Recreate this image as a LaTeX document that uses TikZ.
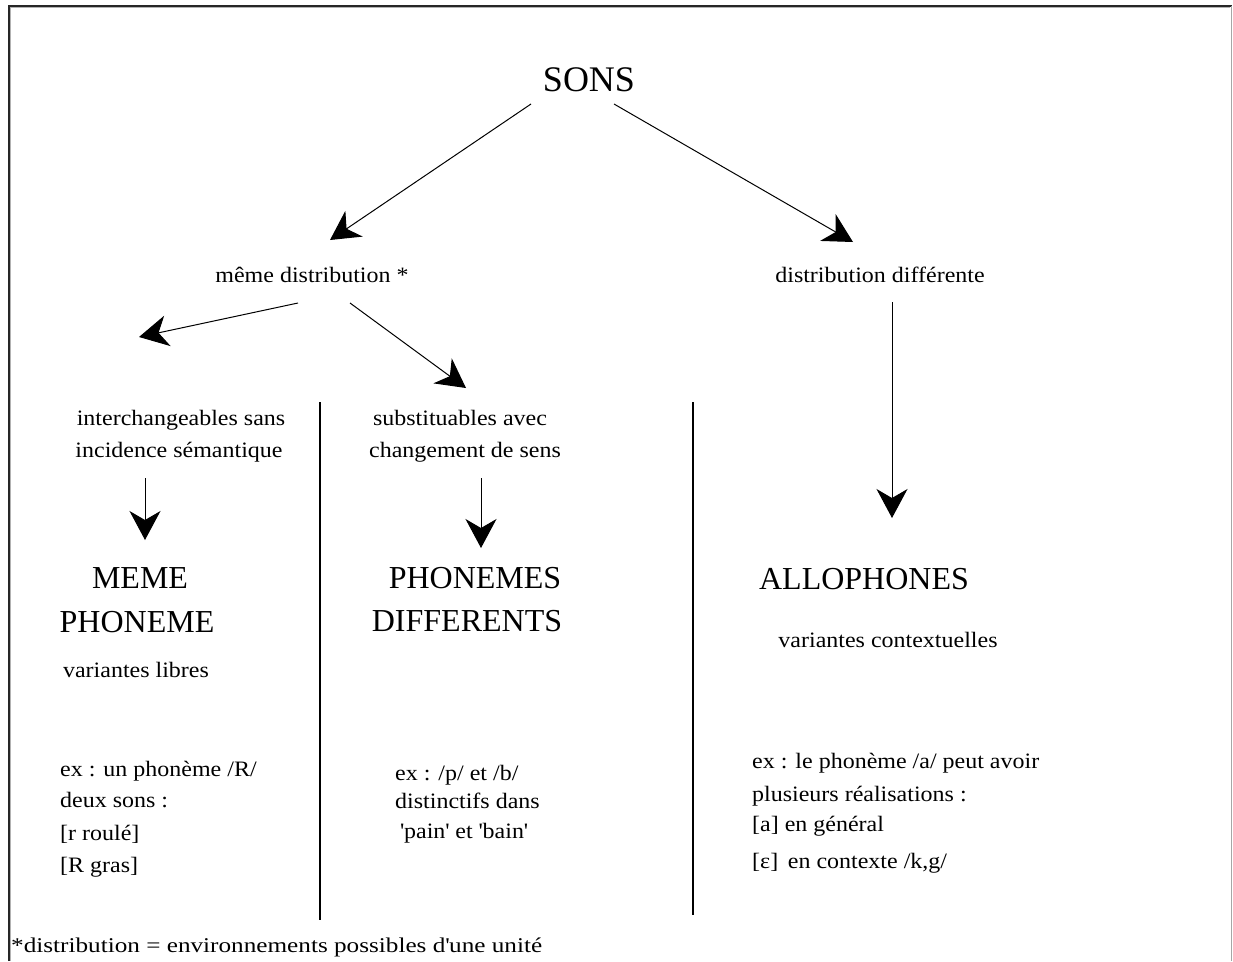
\documentclass[tikz,border=0pt]{standalone}
\usepackage{fontspec}
\setmainfont{Liberation Serif}
\newfontfamily\lblfont[FakeStretch=1.09]{Liberation Serif}
\newfontfamily\notefont[FakeStretch=1.2]{Liberation Serif}
\usetikzlibrary{arrows.meta}

\begin{document}
\begin{tikzpicture}[x=1pt,y=-1pt,
  lbl/.style={inner sep=0pt, anchor=base, font=\lblfont\fontsize{22}{22}\selectfont},
  lblw/.style={lbl, anchor=base west},
  big/.style={inner sep=0pt, anchor=base, font=\fontsize{32}{32}\selectfont},
  arr/.style={line width=1pt, -{Stealth[length=29pt,width=31pt,inset=9pt]}},
  sepline/.style={line width=1.3pt}]

\useasboundingbox (0,0) rectangle (1233,961);
\fill[white] (0,0) rectangle (1233,961);

% window frame: dark top and left edges, grey right edge
\draw[line width=2pt, black!85] (8.5,961) -- (8.5,5.5) -- (1232,5.5);
\draw[line width=1pt, black!30] (10.5,961) -- (10.5,7.5) -- (1230,7.5);
\draw[line width=1.5pt, black!35] (1231.5,6) -- (1231.5,961);

% title
\node[inner sep=0pt, anchor=base, font=\fontsize{36}{36}\selectfont] (sons) at (589,91) {SONS};

% first split
\node[lbl] (meme) at (312,282) {même distribution *};
\node[lbl] (diff) at (880,282) {distribution différente};

% second split
\node[lbl] (inter1) at (181,425) {interchangeables sans};
\node[lbl] (inter2) at (179,457) {incidence sémantique};
\node[lbl] (subst1) at (460,425) {substituables avec};
\node[lbl] (subst2) at (465,457) {changement de sens};

% results
\node[big] (mm1) at (140,588) {MEME};
\node[big] (mm2) at (137,632) {PHONEME};
\node[lbl] (libres) at (136,677) {variantes libres};

\node[big] (pd1) at (475,588) {PHONEMES};
\node[big] (pd2) at (467,631) {DIFFERENTS};

\node[big] (allo) at (864,589) {ALLOPHONES};
\node[lbl] (context) at (888,647) {variantes contextuelles};

% examples
\node[lblw] (exl1) at (60,776) {ex : un phonème /R/};
\node[lblw] (exl2) at (60,807) {deux sons :};
\node[lblw] (exl3) at (60,840) {[r roulé]};
\node[lblw] (exl4) at (60,872) {[R gras]};

\node[lblw] (exm1) at (395,780) {ex : /p/ et /b/};
\node[lblw] (exm2) at (395,808) {distinctifs dans};
\node[lblw] (exm3) at (400,838) {\textquotesingle pain\textquotesingle{} et \textquotesingle bain\textquotesingle};

\node[lblw] (exr1) at (752,768) {ex : le phonème /a/ peut avoir};
\node[lblw] (exr2) at (752,801) {plusieurs réalisations :};
\node[lblw] (exr3) at (752,831) {[a] en général};
\node[lblw] (exr4) at (752,868) {[ε]\, en contexte /k,g/};

% footnote
\node[inner sep=0pt, anchor=base west, font=\notefont\fontsize{21}{21}\selectfont] (note) at (11,952)
  {*distribution = environnements possibles d\textquotesingle une unité};

% arrow ends
\coordinate (s1) at (531,104);  \coordinate (t1) at (330,240);
\coordinate (s2) at (614,104);  \coordinate (t2) at (853,242);
\coordinate (s3) at (298,303);  \coordinate (t3) at (139,337);
\coordinate (s4) at (350,303);  \coordinate (t4) at (466,388);
\coordinate (s5) at (145,478);  \coordinate (t5) at (145,540);
\coordinate (s6) at (481,478);  \coordinate (t6) at (481,548);
\coordinate (s7) at (892,302);  \coordinate (t7) at (892,518);

\draw[arr] (s1) -- (t1);
\draw[arr] (s2) -- (t2);
\draw[arr] (s3) -- (t3);
\draw[arr] (s4) -- (t4);
\draw[arr] (s5) -- (t5);
\draw[arr] (s6) -- (t6);
\draw[arr] (s7) -- (t7);

% column separators
\coordinate (c1a) at (320,402); \coordinate (c1b) at (320,920);
\coordinate (c2a) at (693,402); \coordinate (c2b) at (693,915);
\draw[sepline] (c1a) -- (c1b);
\draw[sepline] (c2a) -- (c2b);
\end{tikzpicture}
\end{document}
